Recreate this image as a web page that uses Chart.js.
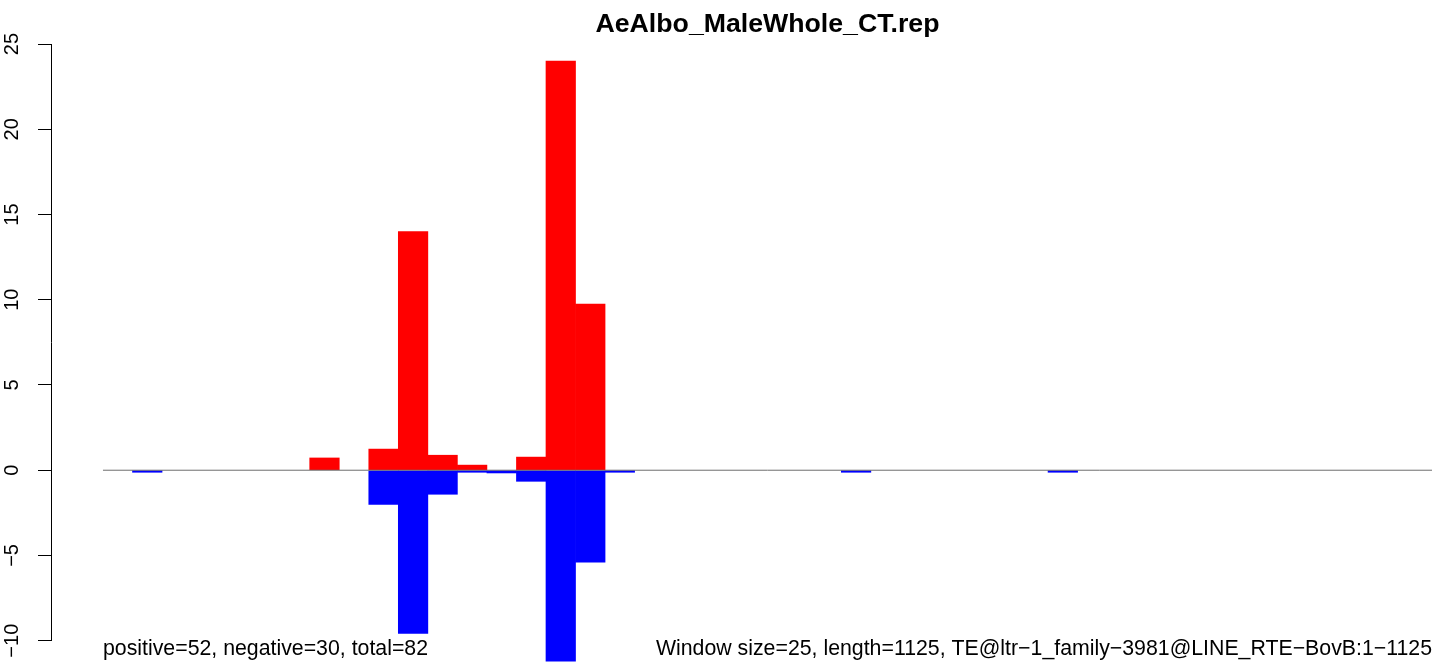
<!DOCTYPE html>
<html><head><meta charset="utf-8">
<script src="https://cdn.jsdelivr.net/npm/chart.js@4.4.1/dist/chart.umd.min.js"></script>
<style>html,body{margin:0;padding:0;background:#fff;overflow:hidden;} #wrap{width:1439px;height:664px;}</style>
</head><body><div id="wrap"><canvas id="c" width="1439" height="664"></canvas></div>
<script>
const chartTitle = 'AeAlbo_MaleWhole_CT.rep';
const leftNote = 'positive=52, negative=30, total=82';
const rightNote = 'Window size=25, length=1125, TE@ltr\u22121_family\u22123981@LINE_RTE\u2212BovB:1\u22121125';
const binCount = 45;
const bins = [0,1,2,3,4,5,6,7,8,9,10,11,12,13,14,15,16,17,18,19,20,21,22,23,24,25,26,27,28,29,30,31,32,33,34,35,36,37,38,39,40,41,42,43,44];
const positiveValues = [0,0,0,0,0, 0,0,0.72,0,1.24, 14,0.88,0.3,0,0.77, 24,9.75,0,0,0, 0,0,0,0,0, 0,0,0,0,0, 0,0,0,0,0, 0,0,0,0,0, 0,0,0,0,0];
const negativeValues = [0,-0.12,0,0,0, 0,0,0,0,-2, -9.57,-1.41,-0.12,-0.16,-0.65, -11.2,-5.4,-0.12,0,0, 0,0,0,0,0, -0.12,0,0,0,0, 0,0,-0.12,0,0, 0,0,0,0,0, 0,0,0,0,0];
const yTickValues = [-10,-5,0,5,10,15,20,25];

const FONT = '"Liberation Sans", Arial, Helvetica, sans-serif';

const notesPlugin = {
  id: 'notes',
  afterLayout(chart) {
    const xs = chart.scales.x;
    const tb = chart.titleBlock;
    if (tb) {
      const l = xs.getPixelForValue(0), r = xs.getPixelForValue(binCount);
      tb.left = l; tb.right = r; tb.width = r - l;
    }
  },
  afterDraw(chart) {
    const ctx = chart.ctx, xs = chart.scales.x;
    ctx.save();
    ctx.font = '21.3px ' + FONT;
    ctx.fillStyle = '#000';
    ctx.textBaseline = 'alphabetic';
    ctx.textAlign = 'left';
    ctx.fillText(leftNote, xs.getPixelForValue(0), 655);
    ctx.textAlign = 'right';
    ctx.fillText(rightNote, xs.getPixelForValue(binCount), 655);
    ctx.restore();
  }
};

const toPoints = vals => bins.map((b, i) => ({x: b + 0.5, y: vals[i] === 0 ? null : vals[i]}));

new Chart(document.getElementById('c'), {
  type: 'bar',
  data: {
    datasets: [
      {
        type: 'line',
        data: [{x: bins[0], y: 0}, {x: binCount, y: 0}],
        borderColor: '#6e6e6e', borderWidth: 1, pointRadius: 0, fill: false,
        order: 0, clip: false
      },
      {
        data: toPoints(positiveValues),
        backgroundColor: '#FF0000', borderWidth: 0, grouped: false,
        barPercentage: 1, categoryPercentage: 1, order: 1, clip: false
      },
      {
        data: toPoints(negativeValues),
        backgroundColor: '#0000FF', borderWidth: 0, grouped: false,
        barPercentage: 1, categoryPercentage: 1, order: 1, clip: false
      }
    ]
  },
  options: {
    responsive: false,
    devicePixelRatio: 1,
    animation: false,
    layout: { padding: { left: 0, right: 7, top: 0, bottom: 23.3 } },
    plugins: {
      legend: { display: false },
      tooltip: { enabled: false },
      title: {
        display: true, text: chartTitle, color: '#000',
        font: { family: FONT, size: 26.7, weight: 'bold' },
        padding: { top: 9, bottom: 3 }
      }
    },
    scales: {
      x: {
        type: 'linear', display: false, offset: false,
        min: -1.76, max: binCount,
        grid: { display: false }
      },
      y: {
        type: 'linear', min: yTickValues[0], max: yTickValues[yTickValues.length - 1],
        afterFit: s => { s.width = 51; },
        afterBuildTicks: s => { s.ticks = yTickValues.map(v => ({value: v})); },
        border: { display: true, color: '#000', width: 1 },
        grid: { display: true, drawOnChartArea: false, drawTicks: true, tickLength: 13, color: '#000', lineWidth: 1 },
        ticks: {
          color: '#000', font: { family: FONT, size: 20 },
          minRotation: 90, maxRotation: 90, crossAlign: 'center', padding: 9,
          callback: v => (v < 0 ? '\u2212' + Math.abs(v) : String(v))
        }
      }
    }
  },
  plugins: [notesPlugin]
});
</script>
</body></html>
